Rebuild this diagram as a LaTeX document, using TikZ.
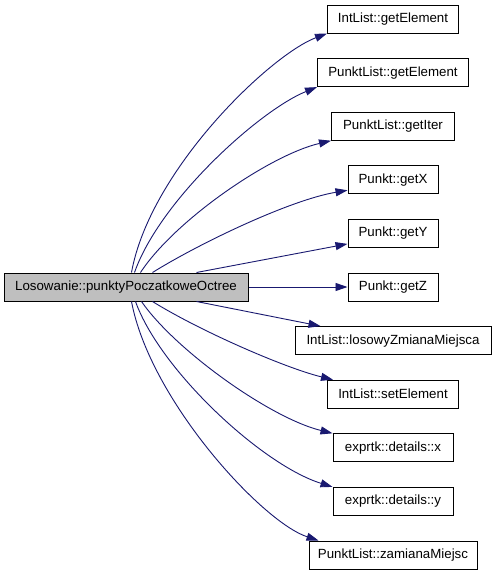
\documentclass[tikz,border=0pt]{standalone}
\usepackage{fontspec}
\setmainfont{Liberation Sans}
\usetikzlibrary{arrows.meta}
\definecolor{edgeblue}{HTML}{191970}
\definecolor{nodegray}{HTML}{BFBFBF}
\begin{document}
\begin{tikzpicture}[x=1pt,y=-1pt,
  box/.style={draw=black, line width=1pt, rectangle, minimum height=28pt, inner sep=0pt,
    font=\fontsize{13.3}{16}\selectfont, anchor=center},
  rootbox/.style={box, fill=nodegray},
  edge/.style={draw=edgeblue, line width=0.9pt, -{Triangle[length=12pt,width=8pt]}}]
\useasboundingbox (0,0) rectangle (496,573);
\fill[white] (0,0) rectangle (496,573);

\node[rootbox, minimum width=244pt] (L) at (126,287) {Losowanie::punktyPoczatkoweOctree};

\node[box, minimum width=131pt] (n1) at (393,19) {IntList::getElement};
\node[box, minimum width=151pt] (n2) at (393,72.6) {PunktList::getElement};
\node[box, minimum width=123pt] (n3) at (393,126.2) {PunktList::getIter};
\node[box, minimum width=90pt] (n4) at (393,179.8) {Punkt::getX};
\node[box, minimum width=90pt] (n5) at (393,233.4) {Punkt::getY};
\node[box, minimum width=90pt] (n6) at (393,287) {Punkt::getZ};
\node[box, minimum width=196pt] (n7) at (393,340.6) {IntList::losowyZmianaMiejsca};
\node[box, minimum width=131pt] (n8) at (393,394.2) {IntList::setElement};
\node[box, minimum width=120pt] (n9) at (393,447.8) {exprtk::details::x};
\node[box, minimum width=120pt] (n10) at (393,501.4) {exprtk::details::y};
\node[box, minimum width=168pt] (n11) at (393,555) {PunktList::zamianaMiejsc};

\draw[edge] ([xshift=128pt]L.north west) .. controls (150,170) and (270,55) .. (n1.south west);
\draw[edge] ([xshift=131pt]L.north west) .. controls (160,200) and (260,110) .. (n2.south west);
\draw[edge] ([xshift=137pt]L.north west) .. controls (175,220) and (270,155) .. (n3.south west);
\draw[edge] ([xshift=149pt]L.north west) .. controls (200,243) and (290,200) .. ([yshift=4pt]n4.south west);
\draw[edge] ([xshift=193pt]L.north west) -- ([yshift=4pt]n5.south west);
\draw[edge] (L.east) -- (n6.west);
\draw[edge] ([xshift=193pt]L.south west) -- ([xshift=26pt]n7.north west);
\draw[edge] ([xshift=149pt]L.south west) .. controls (200,331) and (285,368) .. ([xshift=6pt]n8.north west);
\draw[edge] ([xshift=138pt]L.south west) .. controls (175,350) and (270,418) .. (n9.north west);
\draw[edge] ([xshift=132pt]L.south west) .. controls (160,370) and (262,465) .. (n10.north west);
\draw[edge] ([xshift=128pt]L.south west) .. controls (150,400) and (262,522) .. ([xshift=10pt]n11.north west);
\end{tikzpicture}
\end{document}
